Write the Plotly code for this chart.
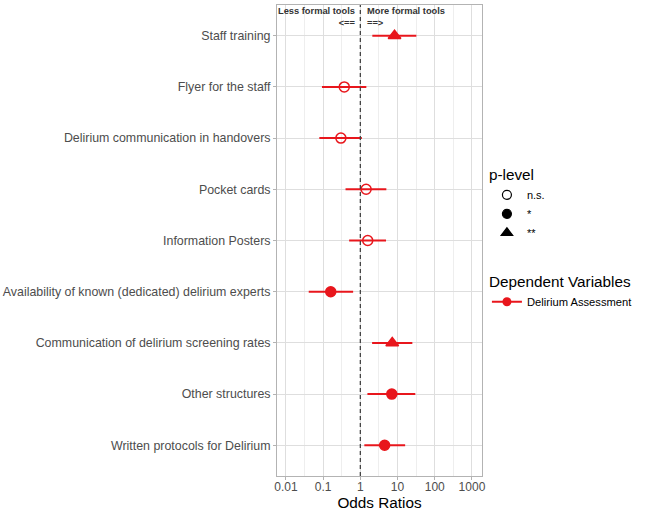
import plotly.graph_objects as go

categories = ["Staff training", "Flyer for the staff", "Delirium communication in handovers",
              "Pocket cards", "Information Posters", "Availability of known (dedicated) delirium experts",
              "Communication of delirium screening rates", "Other structures", "Written protocols for Delirium"]
odds = [8.3, 0.37, 0.30, 1.43, 1.58, 0.16, 7.2, 7.0, 4.5]
ci_low = [2.1, 0.093, 0.079, 0.40, 0.50, 0.041, 2.07, 1.55, 1.28]
ci_high = [32, 1.45, 1.1, 5.0, 4.9, 0.64, 25, 30, 16]
p_level = ["**", "n.s.", "n.s.", "n.s.", "n.s.", "*", "**", "*", "*"]
tick_vals = [0.01, 0.1, 1, 10, 100, 1000]
tick_text = ["0.01", "0.1", "1", "10", "100", "1000"]
minor_vals = [0.0316, 0.316, 3.16, 31.6, 316]

RED = "#E8161C"
FONT = "Liberation Sans, Arial, sans-serif"
symbols = {"n.s.": "circle-open", "*": "circle", "**": "triangle-up"}
sizes = {"n.s.": 10, "*": 10, "**": 11}

fig = go.Figure()
for lvl in ["n.s.", "*", "**"]:
    idx = [i for i, p in enumerate(p_level) if p == lvl]
    fig.add_trace(go.Scatter(
        x=[odds[i] for i in idx], y=[categories[i] for i in idx], mode="markers",
        marker=dict(symbol=symbols[lvl], size=sizes[lvl], color=RED, line=dict(color=RED, width=1.5)),
        error_x=dict(type="data", symmetric=False,
                     array=[ci_high[i] - odds[i] for i in idx],
                     arrayminus=[odds[i] - ci_low[i] for i in idx],
                     color=RED, thickness=2, width=0),
        showlegend=False))

# legend: p-level
for lvl in ["n.s.", "*", "**"]:
    fig.add_trace(go.Scatter(
        x=[None], y=[None], mode="markers", name=lvl, legend="legend",
        marker=dict(symbol=symbols[lvl], size=sizes[lvl] - 1, color="black", line=dict(color="black", width=1.2))))
# legend: dependent variables
fig.add_trace(go.Scatter(
    x=[None], y=[None], mode="lines+markers", name="Delirium Assessment", legend="legend2",
    marker=dict(symbol="circle", size=9, color=RED), line=dict(color=RED, width=2)))

fig.add_vline(x=1, line=dict(color="#444444", width=1.3, dash="4px,3px"))

fig.add_annotation(x=0, y=1, xref="x", yref="paper", xanchor="right", yanchor="top", xshift=-2, yshift=1,
                   text="<b>Less formal tools<br>&lt;==</b>", showarrow=False, align="right",
                   font=dict(family=FONT, size=9.3, color="#333333"))
fig.add_annotation(x=0, y=1, xref="x", yref="paper", xanchor="left", yanchor="top", xshift=5, yshift=1,
                   text="<b>More formal tools<br>==&gt;</b>", showarrow=False, align="left",
                   font=dict(family=FONT, size=9.3, color="#333333"))

fig.update_layout(
    width=645, height=511,
    margin=dict(l=277, r=163, t=5, b=35),
    paper_bgcolor="white", plot_bgcolor="white",
    font=dict(family=FONT, size=12, color="#4D4D4D"),
    xaxis=dict(type="log", range=[-2.24, 3.27], tickvals=tick_vals, ticktext=tick_text,
               showgrid=True, gridcolor="#DEDEDE", gridwidth=1,
               minor=dict(tickvals=minor_vals, showgrid=True, gridcolor="#EEEEEE", gridwidth=0.6, ticks=""),
               ticks="outside", ticklen=3, tickcolor="#B3B3B3", ticklabelstandoff=-3,
               tickfont=dict(size=12, color="#4D4D4D"),
               title=dict(text="Odds Ratios", font=dict(size=15.3, color="black"), standoff=0),
               showline=True, linecolor="#B3B3B3", mirror=True, zeroline=False, automargin=False),
    yaxis=dict(type="category", categoryorder="array", categoryarray=categories[::-1],
               range=[-0.6, 8.6], showgrid=True, gridcolor="#DEDEDE", gridwidth=1,
               ticks="outside", ticklen=3, tickcolor="#B3B3B3",
               tickfont=dict(size=12.4, color="#4D4D4D"),
               showline=True, linecolor="#B3B3B3", mirror=True, zeroline=False, automargin=False),
    legend=dict(title=dict(text="p-level", font=dict(size=15.3, color="black")),
                x=1.024, xanchor="left", y=0.67, yanchor="top", xref="paper", yref="paper",
                font=dict(size=11, color="black"), bgcolor="rgba(0,0,0,0)", tracegroupgap=0,
                itemwidth=30),
    legend2=dict(title=dict(text="Dependent Variables", font=dict(size=15.3, color="black")),
                 x=1.024, xanchor="left", y=0.443, yanchor="top", xref="paper", yref="paper",
                 font=dict(size=11.2, color="black"), bgcolor="rgba(0,0,0,0)", itemwidth=30),
)

fig.write_html("out.html", config={"displayModeBar": False},
               post_script="document.body.style.margin='0';")
